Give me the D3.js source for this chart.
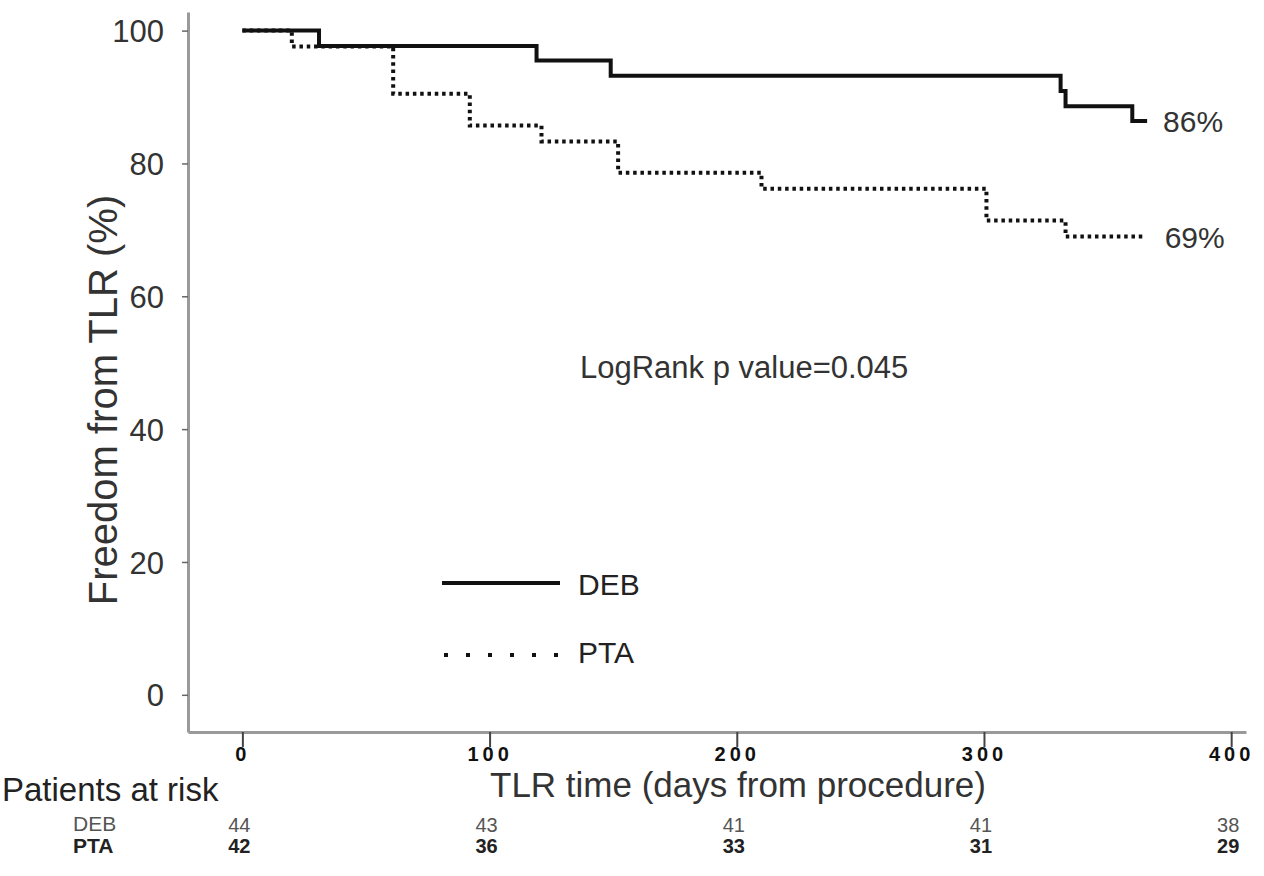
<!DOCTYPE html>
<html>
<head>
<meta charset="utf-8">
<script src="https://cdn.jsdelivr.net/npm/d3@7"></script>
<style>
  body { margin: 0; background: #fff; }
  text { font-family: "Liberation Sans", Arial, sans-serif; }
</style>
</head>
<body>
<svg id="chart" width="1264" height="876"></svg>
<script>
// step points (days, % free from TLR)
var debDays = [0, 31, 119, 149, 331, 333, 360, 366];
var debSurv = [100, 97.7, 95.5, 93.2, 90.9, 88.6, 86.4, 86.4];
var ptaDays = [0, 20, 61, 92, 121, 152, 210, 301, 333, 365];
var ptaSurv = [100, 97.6, 90.5, 85.7, 83.3, 78.6, 76.2, 71.4, 69.0, 69.0];

var yTicks = [0, 20, 40, 60, 80, 100];
var xTicks = [0, 100, 200, 300, 400];

var riskDays = [0, 100, 200, 300, 400];
var riskDeb = [44, 43, 41, 41, 38];
var riskPta = [42, 36, 33, 31, 29];

var endLabels = ["86%", "69%"];

var svg = d3.select("#chart");

var x = d3.scaleLinear().domain([-22, 406]).range([188, 1246]);
var y = d3.scaleLinear().domain([-5.6, 102.8]).range([732, 12]);

// axes
var yAxis = svg.append("g")
  .attr("transform", "translate(188,0)")
  .call(d3.axisLeft(y).tickValues(yTicks).tickSizeInner(6).tickSizeOuter(0).tickPadding(18));
yAxis.select(".domain").attr("stroke", "#9a9a9a").attr("stroke-width", 3);
yAxis.selectAll(".tick line").attr("stroke", "#666").attr("stroke-width", 1.5);
yAxis.selectAll(".tick text")
  .attr("fill", "#333")
  .attr("font-size", 31)
  .attr("dy", "0.36em");

var xAxis = svg.append("g")
  .attr("transform", "translate(0,732)")
  .call(d3.axisBottom(x).tickValues(xTicks).tickSizeInner(15).tickSizeOuter(0).tickPadding(0));
xAxis.select(".domain").attr("stroke", "#9a9a9a").attr("stroke-width", 3);
xAxis.selectAll(".tick line").attr("stroke", "#444").attr("stroke-width", 2);
xAxis.selectAll(".tick text")
  .attr("fill", "#111")
  .attr("font-size", 20)
  .attr("font-weight", "bold")
  .attr("letter-spacing", 4)
  .attr("dy", "0.7em");

// axis titles
svg.append("text")
  .attr("transform", "translate(117,400) rotate(-90)")
  .attr("text-anchor", "middle")
  .attr("font-size", 40)
  .attr("fill", "#333")
  .text("Freedom from TLR (%)");

svg.append("text")
  .attr("x", 738).attr("y", 797)
  .attr("text-anchor", "middle")
  .attr("font-size", 35)
  .attr("fill", "#333")
  .text("TLR time (days from procedure)");

// survival curves
var line = d3.line()
  .x(function(d) { return x(d[0]); })
  .y(function(d) { return y(d[1]); })
  .curve(d3.curveStepAfter);

var ptaPts = ptaDays.map(function(d, i) { return [d, ptaSurv[i]]; });
var debPts = debDays.map(function(d, i) { return [d, debSurv[i]]; });

svg.append("path")
  .datum(ptaPts)
  .attr("d", line)
  .attr("fill", "none")
  .attr("stroke", "#111")
  .attr("stroke-width", 4)
  .attr("stroke-dasharray", "3.5,3.8");

svg.append("path")
  .datum(debPts)
  .attr("d", line)
  .attr("fill", "none")
  .attr("stroke", "#111")
  .attr("stroke-width", 4);

// end labels
svg.append("text")
  .attr("x", x(debDays[debDays.length - 1]) + 16)
  .attr("y", y(debSurv[debSurv.length - 1]) + 11)
  .attr("font-size", 30).attr("fill", "#333")
  .text(endLabels[0]);
svg.append("text")
  .attr("x", x(ptaDays[ptaDays.length - 1]) + 20)
  .attr("y", y(ptaSurv[ptaSurv.length - 1]) + 11)
  .attr("font-size", 30).attr("fill", "#333")
  .text(endLabels[1]);

svg.append("text")
  .attr("x", 580).attr("y", 378)
  .attr("font-size", 31).attr("fill", "#333")
  .text("LogRank p value=0.045");

// legend
var legend = svg.append("g");
legend.append("line")
  .attr("x1", 442).attr("x2", 560).attr("y1", 583).attr("y2", 583)
  .attr("stroke", "#111").attr("stroke-width", 4);
legend.append("text")
  .attr("x", 578).attr("y", 595)
  .attr("font-size", 30).attr("fill", "#222")
  .text("DEB");
legend.append("line")
  .attr("x1", 444).attr("x2", 560).attr("y1", 655).attr("y2", 655)
  .attr("stroke", "#111").attr("stroke-width", 4)
  .attr("stroke-dasharray", "4,18");
legend.append("text")
  .attr("x", 578).attr("y", 663)
  .attr("font-size", 30).attr("fill", "#222")
  .text("PTA");

// patients at risk table
svg.append("text")
  .attr("x", 2).attr("y", 801)
  .attr("font-size", 33).attr("fill", "#222")
  .text("Patients at risk");

svg.append("text")
  .attr("x", 73).attr("y", 831)
  .attr("font-size", 21).attr("fill", "#555")
  .text("DEB");
svg.append("text")
  .attr("x", 73).attr("y", 853)
  .attr("font-size", 21).attr("font-weight", "bold").attr("fill", "#222")
  .text("PTA");

svg.append("g").selectAll("text")
  .data(riskDeb)
  .enter().append("text")
  .attr("x", function(d, i) { return x(riskDays[i]) - 3; })
  .attr("y", 832)
  .attr("text-anchor", "middle")
  .attr("font-size", 20).attr("fill", "#555")
  .text(function(d) { return d; });

svg.append("g").selectAll("text")
  .data(riskPta)
  .enter().append("text")
  .attr("x", function(d, i) { return x(riskDays[i]) - 3; })
  .attr("y", 853)
  .attr("text-anchor", "middle")
  .attr("font-size", 20).attr("font-weight", "bold").attr("fill", "#222")
  .text(function(d) { return d; });
</script>
</body>
</html>
